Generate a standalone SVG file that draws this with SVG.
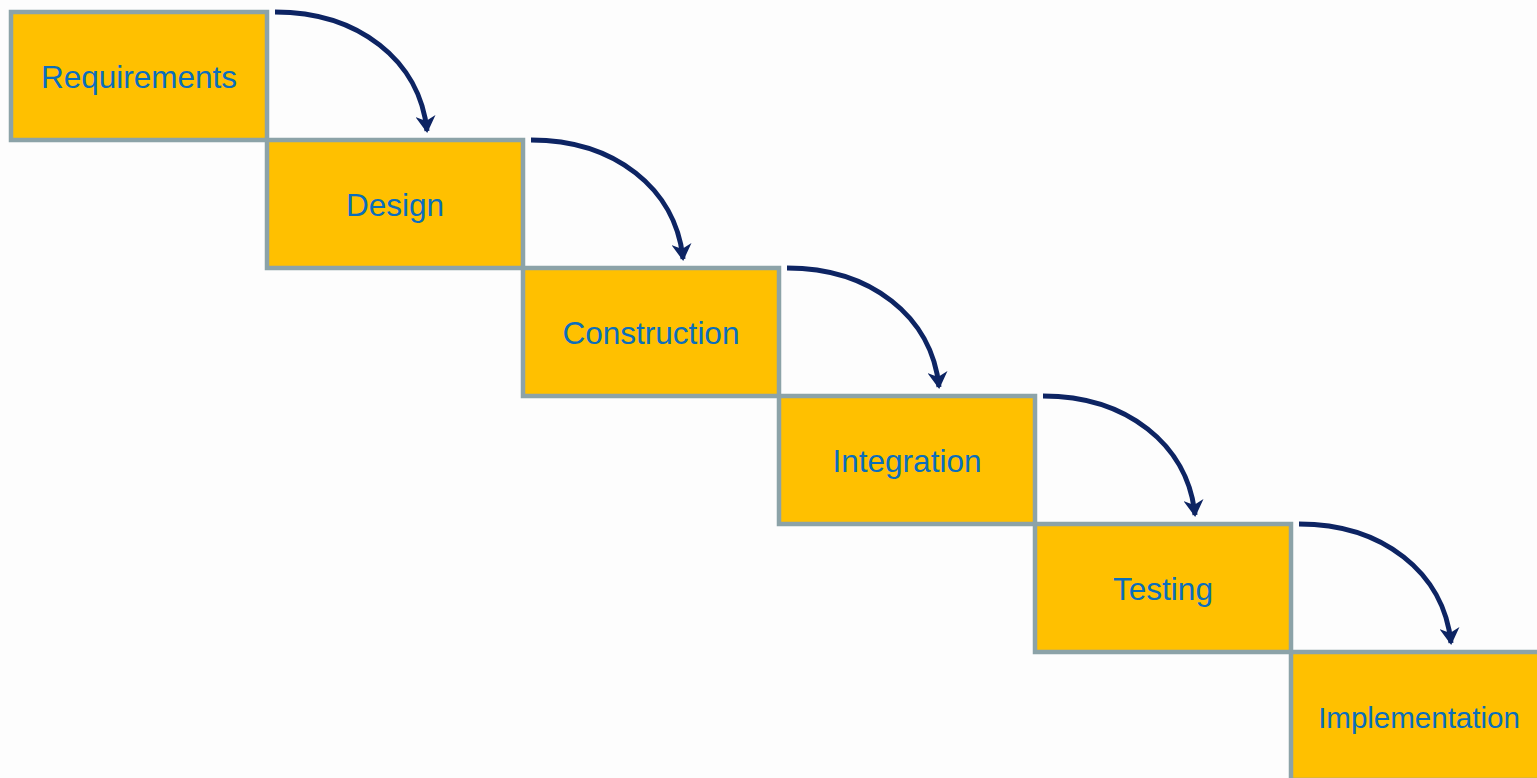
<svg xmlns="http://www.w3.org/2000/svg" width="1537" height="778" viewBox="0 0 1537 778">
  <defs>
    <style>
      .box { fill: #FFC000; stroke: #8CA3A8; stroke-width: 4.5; }
      .lbl { font-family: "Liberation Sans", Arial, sans-serif; font-size: 31.5px; fill: #0A6EBD; text-anchor: middle; dominant-baseline: central; }
      .flow { fill: none; stroke: #0D2463; stroke-width: 5; marker-end: url(#head); }
    </style>
    <!-- barbed arrowhead, tip at the path end -->
    <marker id="head" viewBox="0 0 17 20" refX="15" refY="10" markerWidth="17" markerHeight="20" markerUnits="userSpaceOnUse" orient="auto">
      <path d="M0,0 L17,10 L0,20 L5,10 Z" fill="#0D2463"/>
    </marker>
  </defs>
  <rect width="1537" height="778" fill="#FDFDFD"/>

  <g id="requirements">
    <rect class="box" x="11" y="12" width="256" height="128"/>
    <text class="lbl" x="139" y="77">Requirements</text>
  </g>
  <g id="design">
    <rect class="box" x="267" y="140" width="256" height="128"/>
    <text class="lbl" x="395" y="205">Design</text>
  </g>
  <g id="construction">
    <rect class="box" x="523" y="268" width="256" height="128"/>
    <text class="lbl" x="651" y="333">Construction</text>
  </g>
  <g id="integration">
    <rect class="box" x="779" y="396" width="256" height="128"/>
    <text class="lbl" x="907" y="461">Integration</text>
  </g>
  <g id="testing">
    <rect class="box" x="1035" y="524" width="256" height="128"/>
    <text class="lbl" x="1163" y="589">Testing</text>
  </g>
  <g id="implementation">
    <rect class="box" x="1291" y="652" width="256" height="128"/>
    <text class="lbl" x="1419" y="717" style="font-size:29.5px">Implementation</text>
  </g>

  <g id="connectors">
    <path class="flow" d="M275,12 C358,12 420,60 427,131"/>
    <path class="flow" d="M531,140 C614,140 676,188 683,259"/>
    <path class="flow" d="M787,268 C870,268 932,316 939,387"/>
    <path class="flow" d="M1043,396 C1126,396 1188,444 1195,515"/>
    <path class="flow" d="M1299,524 C1382,524 1444,572 1451,643"/>
  </g>
</svg>
